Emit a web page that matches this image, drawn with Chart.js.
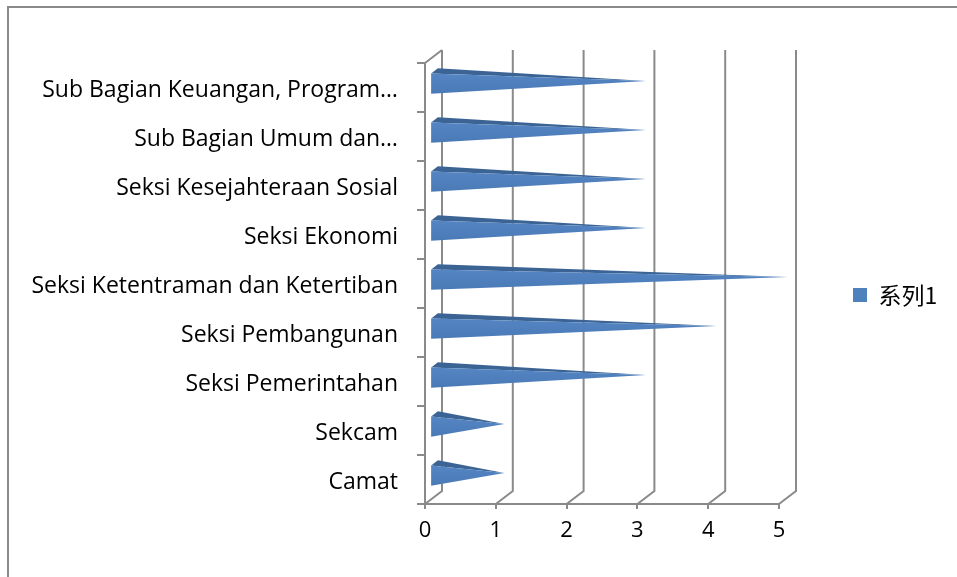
<!DOCTYPE html>
<html>
<head>
<meta charset="utf-8">
<script src="https://cdn.jsdelivr.net/npm/chart.js@4.4.0/dist/chart.umd.min.js"></script>
<style>
  html, body { margin: 0; padding: 0; background: #fff; overflow: hidden; }
  #wrap { position: relative; width: 957px; height: 577px; }
  #frame { position: absolute; left: 7px; top: 6px; width: 1000px; height: 700px; border: 2px solid #8a8a8a; box-sizing: border-box; }
  canvas { position: absolute; left: 0; top: 0; }
</style>
</head>
<body>
<div id="wrap">
  <div id="frame"></div>
  <canvas id="chart" width="957" height="577"></canvas>
</div>
<script>
// data, in Excel order (first category sits at the bottom)
const categories = [
  'Camat',
  'Sekcam',
  'Seksi Pemerintahan',
  'Seksi Pembangunan',
  'Seksi Ketentraman dan Ketertiban',
  'Seksi Ekonomi',
  'Seksi Kesejahteraan Sosial',
  'Sub Bagian Umum dan…',
  'Sub Bagian Keuangan, Program…'
];
const values = [1, 1, 3, 4, 5, 3, 3, 3, 3];
const xTicks = [0, 1, 2, 3, 4, 5];
const seriesName = '系列1';

// depth of the fake 3d box
const DX = 17, DY = -13;
const GRID = '#8a8a8a';
const LABEL_FONT = { family: 'Open Sans', size: 23 };
const TICK_FONT = { family: 'Open Sans', size: 22 };
const LEGEND_FONT = { family: 'Noto Sans CJK SC', size: 23 };

// work out legend width so the plot area ends where Excel put it
const plotRight = 779;
const legendPad = 74;
const mctx = document.createElement('canvas').getContext('2d');
mctx.font = LEGEND_FONT.size + 'px "' + LEGEND_FONT.family + '"';
const legendTextW = mctx.measureText(seriesName).width;
const legendW = legendPad + 14 + LEGEND_FONT.size / 2 + legendTextW + 10;
const padRight = Math.max(0, 957 - plotRight - legendW);

const threeD = {
  id: 'threeD',
  beforeDatasetsDraw(chart) {
    const { ctx, chartArea: a, scales: { x } } = chart;
    ctx.save();
    ctx.strokeStyle = GRID;
    ctx.lineWidth = 2;
    ctx.beginPath();
    xTicks.forEach(v => {
      const px = x.getPixelForValue(v);
      ctx.moveTo(px, a.bottom);
      ctx.lineTo(px + DX, a.bottom + DY);
      ctx.lineTo(px + DX, a.top + DY);
    });
    ctx.moveTo(a.left, a.top);
    ctx.lineTo(a.left + DX, a.top + DY);
    ctx.stroke();
    ctx.restore();
  },
  beforeDatasetDraw() {
    return false; // bars are drawn as pyramids below
  },
  afterDatasetsDraw(chart) {
    const ctx = chart.ctx;
    const meta = chart.getDatasetMeta(0);
    ctx.save();
    meta.data.forEach(el => {
      const { x, y, base, height } = el.getProps(['x', 'y', 'base', 'height'], true);
      const h = height / 2;
      const fx = base + DX * 0.3, fy = DY * 0.3;
      const bx = base + DX * 0.7, by = DY * 0.7;
      const tx = x + DX * 0.5, ty = y + DY * 0.5;

      // top face
      ctx.fillStyle = '#3b6495';
      ctx.beginPath();
      ctx.moveTo(fx, y - h + fy);
      ctx.lineTo(bx, y - h + by);
      ctx.lineTo(tx, ty);
      ctx.closePath();
      ctx.fill();

      // front face
      const g = ctx.createLinearGradient(0, y - h + fy, 0, y + h + fy);
      g.addColorStop(0, '#5585c2');
      g.addColorStop(0.5, '#4f80bd');
      g.addColorStop(1, '#4a7ab6');
      ctx.fillStyle = g;
      ctx.beginPath();
      ctx.moveTo(fx, y - h + fy);
      ctx.lineTo(fx, y + h + fy);
      ctx.lineTo(tx, ty);
      ctx.closePath();
      ctx.fill();
    });
    ctx.restore();
  }
};

new Chart(document.getElementById('chart'), {
  type: 'bar',
  data: {
    labels: categories,
    datasets: [{
      label: seriesName,
      data: values,
      backgroundColor: '#4f81bd',
      borderWidth: 0,
      categoryPercentage: 1,
      barPercentage: 0.41
    }]
  },
  options: {
    indexAxis: 'y',
    responsive: false,
    animation: false,
    layout: { padding: { top: 63, left: 0, right: padRight, bottom: 0 } },
    plugins: {
      tooltip: { enabled: false },
      legend: {
        position: 'right',
        fullSize: false,
        title: { display: true, text: ' ', font: { size: 15, lineHeight: 1 }, padding: 4 },
        labels: {
          boxWidth: 14,
          boxHeight: 14,
          padding: legendPad,
          color: '#000',
          font: LEGEND_FONT
        }
      }
    },
    scales: {
      x: {
        min: 0,
        max: 5,
        ticks: { stepSize: 1, color: '#000', font: TICK_FONT, padding: 9 },
        grid: { drawOnChartArea: false, color: GRID, lineWidth: 2, tickLength: 5 },
        border: { color: GRID, width: 2 },
        afterFit(scale) { scale.height = 73; }
      },
      y: {
        reverse: true,
        ticks: { color: '#000', font: LABEL_FONT, padding: 19, labelOffset: 3 },
        grid: { drawOnChartArea: false, color: GRID, lineWidth: 2, tickLength: 8 },
        border: { color: GRID, width: 2 },
        afterFit(scale) { scale.width = 425; }
      }
    }
  },
  plugins: [threeD]
});
</script>
</body>
</html>
